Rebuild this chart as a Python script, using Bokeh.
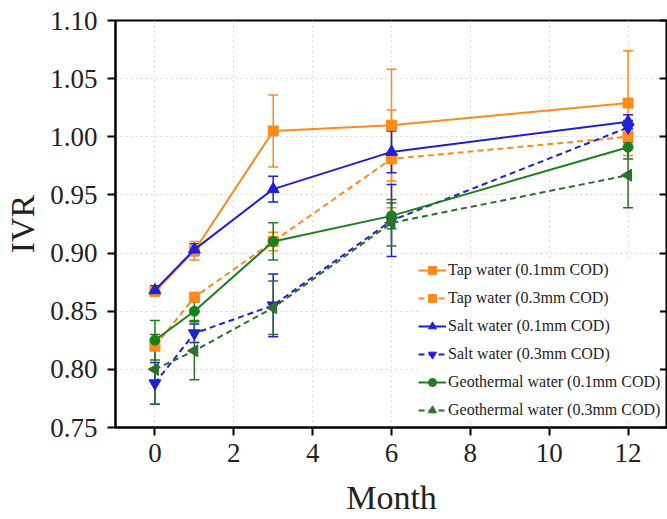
import numpy as np
from bokeh.plotting import figure
from bokeh.models import (ColumnDataSource, Whisker, TeeHead, Legend, LegendItem,
                          LinearAxis, FixedTicker, NumeralTickFormatter, Range1d,
                          CustomJSTickFormatter)
from bokeh.embed import file_html
from bokeh.resources import INLINE

# Ageing time (months)
months = [0, 1, 3, 6, 12]

# IVR means and error half-widths for each water type / crack opening
tap_01 = [0.867, 0.902, 1.005, 1.010, 1.029]
tap_01_err = [0.003, 0.008, 0.031, 0.048, 0.045]
tap_03 = [0.820, 0.862, 0.910, 0.981, 1.000]
tap_03_err = [0.004, 0.004, 0.008, 0.042, 0.005]
salt_01 = [0.868, 0.903, 0.955, 0.987, 1.013]
salt_01_err = [0.004, 0.005, 0.011, 0.018, 0.006]
salt_03 = [0.788, 0.831, 0.855, 0.928, 1.008]
salt_03_err = [0.018, 0.008, 0.027, 0.031, 0.006]
geo_01 = [0.825, 0.850, 0.910, 0.932, 0.991]
geo_01_err = [0.017, 0.008, 0.016, 0.011, 0.010]
geo_03 = [0.800, 0.816, 0.853, 0.926, 0.967]
geo_03_err = [0.030, 0.025, 0.023, 0.020, 0.028]

y_ticks = [0.75, 0.80, 0.85, 0.90, 0.95, 1.00, 1.05, 1.10]
x_ticks = [0, 2, 4, 6, 8, 10, 12]

FONT = "Liberation Serif"
ORANGE = "#ff8a1c"
BLUE = "#1f1fd6"
GREEN = "#1b7f1b"
DGREEN = "#2e6e2e"

series = [
    ("Tap water (0.1mm COD)", tap_01, tap_01_err, ORANGE, "solid", "square", 0.0, 10),
    ("Tap water (0.3mm COD)", tap_03, tap_03_err, ORANGE, "6 4", "square", 0.0, 10),
    ("Salt water (0.1mm COD)", salt_01, salt_01_err, BLUE, "solid", "triangle", 0.0, 12),
    ("Salt water (0.3mm COD)", salt_03, salt_03_err, BLUE, "6 4", "inverted_triangle", 0.0, 12),
    ("Geothermal water (0.1mm COD)", geo_01, geo_01_err, GREEN, "solid", "circle", 0.0, 10),
    ("Geothermal water (0.3mm COD)", geo_03, geo_03_err, DGREEN, "6 4", "triangle", np.pi / 2, 12),
]

p = figure(width=667, height=519, output_backend="svg", toolbar_location=None,
           x_range=Range1d(-1, 13), y_range=Range1d(0.75, 1.10),
           min_border_left=115, min_border_right=0, min_border_top=20,
           min_border_bottom=92)
p.background_fill_color = "white"
p.border_fill_color = "white"
p.outline_line_color = "black"
p.outline_line_width = 2

legend_items = []
for label, ys, errs, color, dash, marker, angle, size in series:
    src = ColumnDataSource(dict(
        x=months, y=ys,
        lower=[v - e for v, e in zip(ys, errs)],
        upper=[v + e for v, e in zip(ys, errs)],
    ))
    wh = Whisker(source=src, base="x", lower="lower", upper="upper",
                 line_color=color, line_width=1.5,
                 upper_head=TeeHead(size=10, line_color=color, line_width=1.5),
                 lower_head=TeeHead(size=10, line_color=color, line_width=1.5))
    p.add_layout(wh)
    ln = p.line("x", "y", source=src, line_color=color, line_width=2, line_dash=dash)
    mk = p.scatter("x", "y", source=src, marker=marker, angle=angle, size=size,
                   fill_color=color, line_color=color)
    legend_items.append(LegendItem(label=label, renderers=[ln, mk]))

# axes
for ax in (p.xaxis[0], p.yaxis[0]):
    ax.axis_line_width = 2
    ax.major_tick_line_width = 2
    ax.major_tick_out = 8
    ax.major_tick_in = 0
    ax.minor_tick_out = 0
    ax.minor_tick_in = 0
    ax.major_label_text_font = FONT
    ax.major_label_text_font_size = "27px"
    ax.major_label_text_color = "#222222"
    ax.axis_label_text_font = FONT
    ax.axis_label_text_font_size = "34px"
    ax.axis_label_text_font_style = "normal"
    ax.axis_label_text_color = "#222222"

p.xaxis.ticker = FixedTicker(ticks=x_ticks)
p.yaxis.ticker = FixedTicker(ticks=y_ticks)
p.yaxis.formatter = NumeralTickFormatter(format="0.00")
p.xaxis.axis_label = "Month"
p.yaxis.axis_label = "IVR"
p.xaxis.major_label_standoff = 8
p.yaxis.major_label_standoff = 10
p.xaxis.axis_label_standoff = 14
p.yaxis.axis_label_standoff = 6

# light dotted grid
p.xgrid.ticker = FixedTicker(ticks=x_ticks)
p.ygrid.ticker = FixedTicker(ticks=y_ticks)
p.grid.grid_line_color = "#c8c8c8"
p.grid.grid_line_dash = "2 3"
p.grid.grid_line_alpha = 0.7

# right-hand inward ticks, no labels
rax = LinearAxis(ticker=FixedTicker(ticks=y_ticks), major_tick_in=8, major_tick_out=0,
                 minor_tick_in=0, minor_tick_out=0,
                 formatter=CustomJSTickFormatter(code="return ''"),
                 major_label_standoff=0, axis_line_width=2, major_tick_line_width=2)
p.add_layout(rax, "right")

legend = Legend(items=legend_items, location=(303, 7), border_line_color=None,
                background_fill_color="white", background_fill_alpha=1.0,
                label_text_font=FONT, label_text_font_size="16px",
                label_text_color="#222222",
                glyph_width=28, glyph_height=20, label_height=20,
                label_standoff=2, spacing=8, padding=4, margin=0)
p.add_layout(legend, "center")

open("out.html", "w").write(file_html(p, INLINE))
